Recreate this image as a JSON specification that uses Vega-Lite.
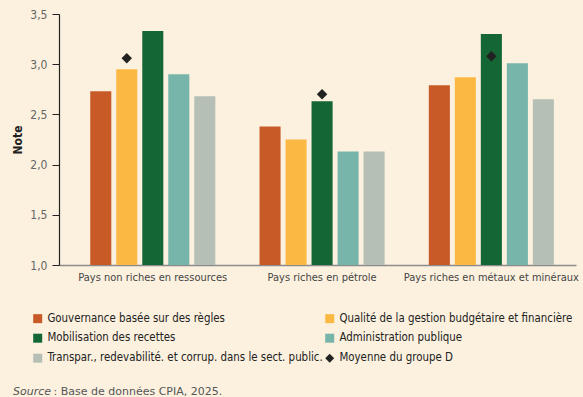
{
  "$schema": "https://vega.github.io/schema/vega-lite/v6.json",
  "autosize": {"type": "none"},
  "width": 517,
  "height": 251,
  "padding": {"left": 59, "top": 14, "right": 7, "bottom": 132},
  "background": "#fcf1df",
  "config": {
    "view": {"stroke": null},
    "locale": {"number": {"decimal": ",", "thousands": " ", "grouping": [3], "currency": ["", " €"]}}
  },
  "title": {
    "text": "Source",
    "orient": "bottom",
    "anchor": "start",
    "frame": "group",
    "font": "DejaVu Sans",
    "fontStyle": "italic",
    "fontWeight": "normal",
    "fontSize": 11,
    "color": "#555555",
    "baseline": "alphabetic",
    "dx": -46,
    "offset": -1.5
  },
  "datasets": {
    "barres": [
      {"groupe": "Pays non riches en ressources", "legende": "Gouvernance basée sur des règles", "valeur": 2.73},
      {"groupe": "Pays non riches en ressources", "legende": "Qualité de la gestion budgétaire et financière", "valeur": 2.95},
      {"groupe": "Pays non riches en ressources", "legende": "Mobilisation des recettes", "valeur": 3.33},
      {"groupe": "Pays non riches en ressources", "legende": "Administration publique", "valeur": 2.90},
      {"groupe": "Pays non riches en ressources", "legende": "Transpar., redevabilité. et corrup. dans le sect. public.", "valeur": 2.68},
      {"groupe": "Pays riches en pétrole", "legende": "Gouvernance basée sur des règles", "valeur": 2.38},
      {"groupe": "Pays riches en pétrole", "legende": "Qualité de la gestion budgétaire et financière", "valeur": 2.25},
      {"groupe": "Pays riches en pétrole", "legende": "Mobilisation des recettes", "valeur": 2.63},
      {"groupe": "Pays riches en pétrole", "legende": "Administration publique", "valeur": 2.13},
      {"groupe": "Pays riches en pétrole", "legende": "Transpar., redevabilité. et corrup. dans le sect. public.", "valeur": 2.13},
      {"groupe": "Pays riches en métaux et minéraux", "legende": "Gouvernance basée sur des règles", "valeur": 2.79},
      {"groupe": "Pays riches en métaux et minéraux", "legende": "Qualité de la gestion budgétaire et financière", "valeur": 2.87},
      {"groupe": "Pays riches en métaux et minéraux", "legende": "Mobilisation des recettes", "valeur": 3.30},
      {"groupe": "Pays riches en métaux et minéraux", "legende": "Administration publique", "valeur": 3.01},
      {"groupe": "Pays riches en métaux et minéraux", "legende": "Transpar., redevabilité. et corrup. dans le sect. public.", "valeur": 2.65}
    ],
    "moyennes": [
      {"groupe": "Pays non riches en ressources", "legende_barre": "Qualité de la gestion budgétaire et financière", "legende": "Moyenne du groupe D", "valeur": 3.06},
      {"groupe": "Pays riches en pétrole", "legende_barre": "Mobilisation des recettes", "legende": "Moyenne du groupe D", "valeur": 2.70},
      {"groupe": "Pays riches en métaux et minéraux", "legende_barre": "Mobilisation des recettes", "legende": "Moyenne du groupe D", "valeur": 3.08}
    ]
  },
  "encoding": {
    "x": {
      "field": "groupe",
      "type": "nominal",
      "sort": ["Pays non riches en ressources", "Pays riches en pétrole", "Pays riches en métaux et minéraux"],
      "scale": {"paddingInner": 0, "paddingOuter": 0.027, "align": 1},
      "axis": {
        "title": ": Base de données CPIA, 2025.",
        "titleFont": "DejaVu Sans",
        "titleFontSize": 11,
        "titleFontWeight": "normal",
        "titleColor": "#555555",
        "titleAnchor": "start",
        "titleAlign": "left",
        "titleX": -6,
        "titleY": 129,
        "titleBaseline": "alphabetic",
        "labelAngle": 0,
        "labelFont": "Liberation Sans Narrow, DejaVu Sans Condensed, Roboto Condensed, Open Sans Condensed, Liberation Sans",
        "labelFontSize": 11,
        "labelColor": "#444444",
        "labelPadding": 6,
        "labelLimit": 300,
        "ticks": false,
        "domainColor": "#8c8c8c",
        "domainWidth": 1.5
      }
    },
    "y": {
      "field": "valeur",
      "type": "quantitative",
      "scale": {"domain": [1, 3.5], "nice": false, "zero": false},
      "axis": {
        "title": "Note",
        "titleFont": "Liberation Sans Narrow, DejaVu Sans Condensed, Roboto Condensed, Open Sans Condensed, Liberation Sans",
        "titleFontSize": 12,
        "titleFontWeight": "bold",
        "titleColor": "#222222",
        "titlePadding": 5,
        "values": [1, 1.5, 2, 2.5, 3, 3.5],
        "format": ".1f",
        "grid": false,
        "labelFont": "Liberation Sans Narrow, DejaVu Sans Condensed, Roboto Condensed, Open Sans Condensed, Liberation Sans",
        "labelFontSize": 12,
        "labelColor": "#666666",
        "labelPadding": 5,
        "tickSize": 7,
        "tickColor": "#222222",
        "domainColor": "#222222",
        "domainWidth": 1.2
      }
    }
  },
  "layer": [
    {
      "data": {"name": "barres"},
      "mark": {"type": "bar"},
      "encoding": {
        "xOffset": {
          "field": "legende",
          "type": "nominal",
          "scale": {
            "domain": ["Gouvernance basée sur des règles", "Qualité de la gestion budgétaire et financière", "Mobilisation des recettes", "Administration publique", "Transpar., redevabilité. et corrup. dans le sect. public."],
            "paddingInner": 0.19, "paddingOuter": 0.85
          }
        },
        "y2": {"datum": 1},
        "color": {
          "field": "legende",
          "type": "nominal",
          "scale": {
            "domain": ["Gouvernance basée sur des règles", "Mobilisation des recettes", "Transpar., redevabilité. et corrup. dans le sect. public.", "Qualité de la gestion budgétaire et financière", "Administration publique", "Moyenne du groupe D"],
            "range": ["#c85a27", "#146635", "#b6bfb6", "#fbb944", "#77b5ab", "#222222"]
          },
          "legend": {
            "title": null,
            "orient": "none",
            "legendX": -27,
            "legendY": 298.5,
            "columns": 2,
            "columnPadding": 1,
            "rowPadding": 7,
            "symbolSize": 81,
            "symbolType": "square",
            "symbolStrokeWidth": 0,
            "labelFont": "Liberation Sans Narrow, DejaVu Sans Condensed, Roboto Condensed, Open Sans Condensed, Liberation Sans",
            "labelFontSize": 11.4,
            "labelColor": "#222222",
            "labelOffset": 4,
            "labelLimit": 400
          }
        }
      }
    },
    {
      "data": {"name": "moyennes"},
      "mark": {"type": "point", "filled": true, "opacity": 1, "size": 110},
      "encoding": {
        "xOffset": {"field": "legende_barre", "type": "nominal"},
        "color": {"field": "legende", "type": "nominal"},
        "shape": {
          "field": "legende",
          "type": "nominal",
          "scale": {
            "domain": ["Gouvernance basée sur des règles", "Mobilisation des recettes", "Transpar., redevabilité. et corrup. dans le sect. public.", "Qualité de la gestion budgétaire et financière", "Administration publique", "Moyenne du groupe D"],
            "range": ["square", "square", "square", "square", "square", "diamond"]
          },
          "legend": null
        }
      }
    }
  ]
}
